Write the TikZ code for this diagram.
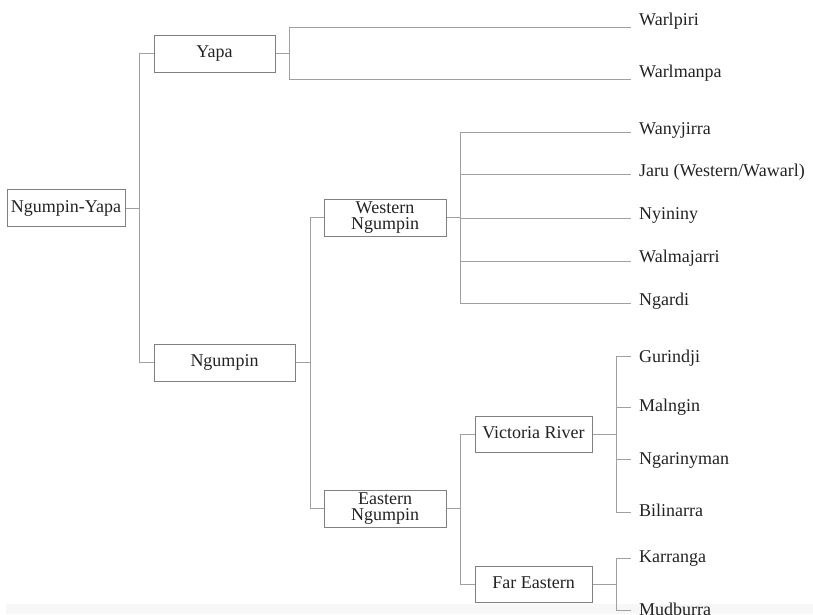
\documentclass[tikz,border=0pt]{standalone}
\usepackage{fontspec}
\setmainfont{Liberation Serif}
\newfontfamily\treefont{Liberation Serif}
\usetikzlibrary{calc}
\definecolor{txt}{HTML}{222222}
\definecolor{boxc}{HTML}{808080}
\definecolor{linec}{HTML}{A0A0A0}
\definecolor{strip}{HTML}{F7F7F7}
\begin{document}
\begin{tikzpicture}[x=1pt,y=-1pt,
  every node/.style={font=\treefont\fontsize{18}{15.5}\selectfont, text=txt},
  box/.style={draw=boxc, line width=1pt, minimum height=37pt, inner sep=0pt, align=center},
  onebox/.style={box, text height=12pt, text depth=4pt},
  leaf/.style={anchor=base west, inner sep=0pt},
  conn/.style={draw=linec, line width=1pt}]
\useasboundingbox (0,0) rectangle (813,614);
\fill[strip] (6,604) rectangle (813,614);
% boxes
\node[onebox, minimum width=118pt] (NY) at (66,208) {Ngumpin-Yapa};
\node[onebox, minimum width=121pt] (Yapa) at (214.5,53.5) {Yapa};
\node[onebox, minimum width=141pt] (Ngumpin) at (224.5,362.5) {Ngumpin};
\node[box, minimum width=122pt] (Western) at (385,217.5) {Western\\Ngumpin};
\node[box, minimum width=122pt] (Eastern) at (385,508.5) {Eastern\\Ngumpin};
\node[onebox, minimum width=117pt, minimum height=36pt] (Victoria) at (533.5,434) {Victoria River};
\node[onebox, minimum width=117pt, minimum height=36pt] (FarEast) at (533.5,584) {Far Eastern};
% leaves
\foreach \n/\ly/\by/\t in {
  Warlpiri/27.5/25/Warlpiri,
  Warlmanpa/79/77/Warlmanpa,
  Wanyjirra/132/134/Wanyjirra,
  Jaru/174/176/{Jaru (Western/Wawarl)},
  Nyininy/218/219/Nyininy,
  Walmajarri/261/262/Walmajarri,
  Ngardi/303/305/Ngardi,
  Gurindji/356/362/Gurindji,
  Malngin/407/411/Malngin,
  Ngarinyman/459/464/Ngarinyman,
  Bilinarra/512/516/Bilinarra,
  Karranga/558/562/Karranga,
  Mudburra/610/615/Mudburra}{
  \coordinate (e\n) at (631,\ly);
  \node[leaf] (\n) at (639,\by) {\t};
}
% connectors
\draw[conn] (NY.east) -- ++(14,0) coordinate (jNY);
\draw[conn] (Yapa.west) -| (jNY);
\draw[conn] (Ngumpin.west) -| (jNY);
\draw[conn] (Yapa.east) -- ++(14,0) coordinate (jY);
\foreach \n in {Warlpiri,Warlmanpa} \draw[conn] (e\n) -| (jY);
\draw[conn] (Ngumpin.east) -- ++(15,0) coordinate (jN);
\draw[conn] (Western.west) -| (jN);
\draw[conn] (Eastern.west) -| (jN);
\draw[conn] (Western.east) -- ++(14,0) coordinate (jW);
\foreach \n in {Wanyjirra,Jaru,Nyininy,Walmajarri,Ngardi} \draw[conn] (e\n) -| (jW);
\draw[conn] (Eastern.east) -- ++(14,0) coordinate (jE);
\draw[conn] (Victoria.west) -| (jE);
\draw[conn] (FarEast.west) -| (jE);
\draw[conn] (Victoria.east) -- ++(24,0) coordinate (jV);
\foreach \n in {Gurindji,Malngin,Ngarinyman,Bilinarra} \draw[conn] (e\n) -| (jV);
\draw[conn] (FarEast.east) -- ++(24,0) coordinate (jF);
\foreach \n in {Karranga,Mudburra} \draw[conn] (e\n) -| (jF);
\end{tikzpicture}
\end{document}
